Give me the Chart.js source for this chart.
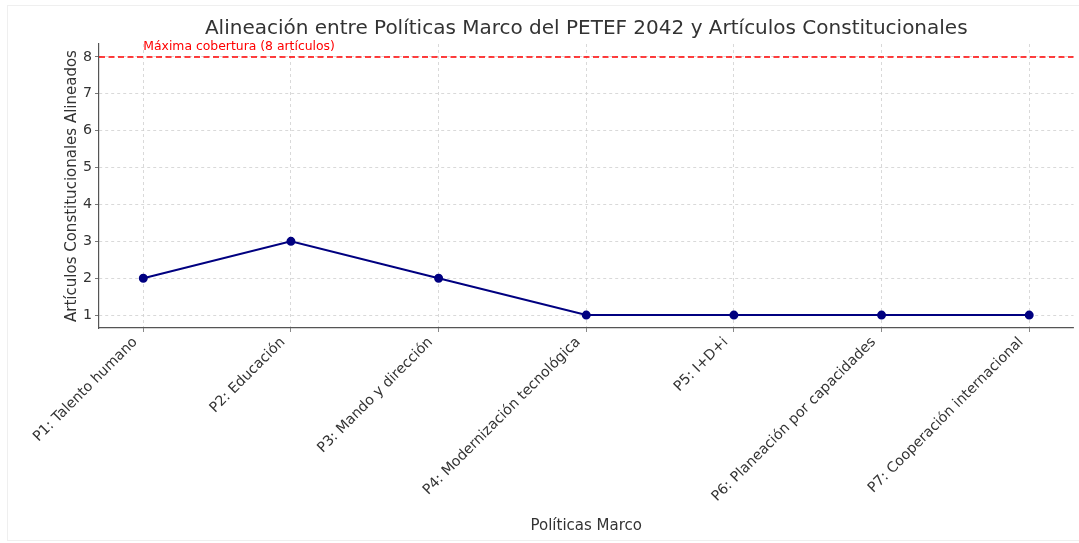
<!DOCTYPE html>
<html><head><meta charset="utf-8">
<script src="https://cdn.jsdelivr.net/npm/chart.js@4.4.1/dist/chart.umd.min.js"></script>
<style>html,body{margin:0;padding:0;background:#fff}#wrap{width:1079px;height:543px}</style>
</head><body><div id="wrap"><canvas id="c" width="1079" height="543"></canvas></div>
<script>
const categories = ["P1: Talento humano","P2: Educación","P3: Mando y dirección","P4: Modernización tecnológica","P5: I+D+i","P6: Planeación por capacidades","P7: Cooperación internacional"];
const alignedArticles = [2,3,2,1,1,1,1];
const yTicks = [1,2,3,4,5,6,7,8];
const maxCoverage = 8;
const maxCoverageLabel = "Máxima cobertura (8 artículos)";
const chartTitle = "Alineación entre Políticas Marco del PETEF 2042 y Artículos Constitucionales";
const xTitle = "Políticas Marco";
const yTitle = "Artículos Constitucionales Alineados";

const FONT = "'DejaVu Sans', sans-serif";
const points = alignedArticles.map((v,i)=>({x:i,y:v}));

const overlay = {
  id:'overlay',
  beforeDraw(chart){
    const c = chart.ctx;
    c.save();
    c.fillStyle='#fff'; c.fillRect(0,0,chart.width,chart.height);
    c.strokeStyle='#efefef'; c.lineWidth=1;
    c.strokeRect(7.5,5.5,1080,535);
    c.restore();
  },
  afterDatasetsDraw(chart){
    const c = chart.ctx, a = chart.chartArea, xs = chart.scales.x, ys = chart.scales.y;
    c.save();
    const y = ys.getPixelForValue(maxCoverage);
    c.strokeStyle='#ff0000'; c.lineWidth=1.5; c.setLineDash([6,3.5]);
    c.beginPath(); c.moveTo(a.left,y); c.lineTo(a.right,y); c.stroke();
    c.setLineDash([]);
    c.fillStyle='#ff0000'; c.font="12.4px "+FONT; c.textAlign='left'; c.textBaseline='alphabetic';
    c.fillText(maxCoverageLabel, xs.getPixelForValue(0), ys.getPixelForValue(maxCoverage+0.2));
    c.fillStyle='#333'; c.font="20px "+FONT; c.textAlign='center'; c.textBaseline='middle';
    c.fillText(chartTitle,(a.left+a.right)/2,29);
    c.restore();
  }
};

new Chart(document.getElementById('c'),{
  type:'line',
  data:{datasets:[{
    data:points,
    borderColor:'#000080', backgroundColor:'#000080',
    borderWidth:2, pointRadius:3.5, pointHoverRadius:3.5, tension:0
  }]},
  plugins:[overlay],
  options:{
    responsive:false, animation:false, devicePixelRatio:1,
    layout:{padding:{left:0,right:3,top:44,bottom:6}},
    plugins:{legend:{display:false},tooltip:{enabled:false},title:{display:false}},
    scales:{
      x:{type:'linear',min:-0.3,max:categories.length-1+0.3,
        afterBuildTicks(s){s.ticks=categories.map((_,i)=>({value:i}));},
        afterFit(s){s.height=543-328-6; s.paddingLeft=0; s.paddingRight=0;},
        ticks:{autoSkip:false,maxRotation:45,minRotation:45,color:'#333',font:{family:FONT,size:14.2},padding:2,labelOffset:-8,
          callback:(v)=>categories[v]},
        grid:{color:'#d0d0d0',tickColor:'#555',tickLength:4,tickBorderDash:[1,0],lineWidth:0.8},
        border:{display:true,color:'#555',width:1.2,dash:[3,3]},
        title:{display:true,text:xTitle,color:'#333',font:{family:FONT,size:15},padding:{top:0,bottom:2}}
      },
      y:{type:'linear',min:0.65,max:8.35,
        afterBuildTicks(s){s.ticks=yTicks.map(v=>({value:v}));},
        afterFit(s){s.width=99;},
        ticks:{color:'#333',font:{family:FONT,size:14.2},padding:3},
        grid:{color:'#d0d0d0',tickColor:'#555',tickLength:4,tickBorderDash:[1,0],lineWidth:0.8},
        border:{display:true,color:'#555',width:1.2,dash:[3,3]},
        title:{display:true,text:yTitle,color:'#333',font:{family:FONT,size:15},padding:{top:63,bottom:0}}
      }
    }
  }
});
</script></body></html>
